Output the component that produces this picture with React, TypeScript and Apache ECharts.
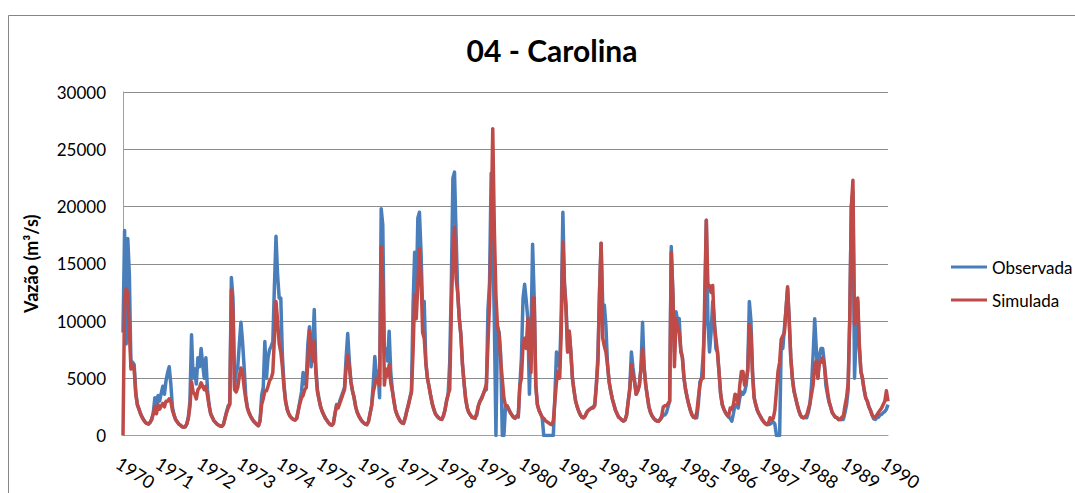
import React, { useEffect, useRef } from 'react';
import * as echarts from 'echarts';

// Year tick labels as printed on the original axis (1981 is absent there)
const tickLabels = ['1970', '1971', '1972', '1973', '1974', '1975', '1976', '1977', '1978', '1979', '1980', '1982', '1983', '1984', '1985', '1986', '1987', '1988', '1989', '1990'];

// Observed discharge (m³/s), sampled every half month; 24 samples per row
const observada = [
  9000, 17900, 8000, 17200, 14000, 6000, 6400, 6200, 3800, 2700, 2300, 1900, 1600, 1350, 1150, 1050, 1000, 1150, 1400, 2000, 3300, 2600, 3500, 3000,
  3700, 4300, 3600, 4800, 5500, 6000, 4500, 2500, 1800, 1400, 1200, 1000, 900, 780, 720, 750, 1000, 1600, 3000, 8800, 5000, 5800, 4500, 6800,
  6000, 7600, 6200, 5000, 6800, 4000, 2700, 1900, 1600, 1300, 1150, 1000, 900, 830, 800, 950, 1500, 2100, 2600, 2800, 13800, 12000, 4200, 5500,
  6000, 8000, 9900, 8200, 6000, 3500, 2500, 2000, 1700, 1450, 1250, 1100, 950, 850, 1300, 3500, 4200, 8200, 5000, 6800, 7500, 7800, 8200, 13000,
  17400, 14000, 12000, 12000, 7000, 4500, 3000, 2300, 1900, 1650, 1500, 1400, 1350, 1500, 2200, 3000, 3800, 5500, 4500, 5000, 8000, 9500, 6000, 7500,
  11000, 6000, 4000, 3200, 2500, 2100, 1800, 1500, 1300, 1100, 950, 900, 1050, 1900, 2700, 2500, 3000, 3400, 3800, 4200, 6800, 8900, 6500, 4700,
  3900, 3300, 2500, 2000, 1700, 1450, 1250, 1100, 1000, 950, 1200, 1900, 2600, 4500, 6900, 5200, 5600, 3300, 19800, 18400, 7300, 7600, 6500, 9100,
  5500, 4000, 3000, 2200, 1800, 1500, 1250, 1100, 1050, 1500, 2100, 2700, 3300, 3900, 11300, 16000, 12000, 19000, 19500, 16000, 11000, 11700, 6400, 5000,
  4300, 3500, 2800, 2300, 1900, 1700, 1550, 1450, 1400, 1700, 2200, 3000, 3600, 6400, 13200, 22500, 23000, 17500, 12500, 10200, 8800, 6200, 4600, 3200,
  2400, 2000, 1800, 1600, 1550, 1600, 1800, 2600, 3000, 3300, 3600, 3900, 4000, 11000, 13400, 22900, 17000, 10000, 0, 9500, 9000, 7000, 0, 0,
  2500, 2600, 2300, 2000, 1800, 1600, 1500, 1700, 1600, 4400, 6800, 12000, 13200, 11800, 10200, 3600, 8800, 16700, 12000, 4400, 2700, 2200, 1900, 1600,
  0, 0, 0, 0, 0, 0, 0, 3500, 7300, 6800, 5900, 10800, 19500, 13200, 11400, 7300, 9100, 7300, 5000, 3900, 3000, 2500, 2100, 1800,
  1600, 1550, 1700, 2000, 2200, 2300, 2400, 2500, 2700, 4400, 7000, 12500, 16800, 11400, 11400, 9600, 6200, 4700, 3900, 3200, 2700, 2200, 1900, 1600,
  1500, 1350, 1250, 1350, 1800, 3000, 4200, 7300, 5900, 4800, 3600, 3900, 4400, 5900, 9900, 5900, 4400, 3400, 2500, 2000, 1700, 1500, 1350, 1250,
  1250, 1400, 1550, 1800, 1800, 2000, 2500, 3000, 16500, 12500, 7300, 10800, 10000, 10200, 7300, 6800, 5000, 4000, 3300, 2700, 2200, 1800, 1600, 1550,
  1550, 2700, 4700, 5000, 7000, 10000, 18800, 10000, 7300, 9000, 11700, 10200, 7600, 7300, 5500, 3600, 2700, 2300, 2000, 1800, 1600, 1500, 1250, 1900,
  2700, 2600, 2400, 3300, 3800, 3600, 3800, 4400, 5900, 11700, 10000, 5600, 3300, 2700, 2200, 1900, 1650, 1400, 1200, 1050, 950, 950, 1000, 1100,
  1200, 1000, 0, 0, 0, 8000, 7600, 9400, 11000, 12800, 10200, 6800, 5000, 3900, 3300, 2700, 2200, 1800, 1600, 1550, 1600, 1550, 2000, 2700,
  4400, 7000, 10200, 7600, 5000, 7000, 7600, 7600, 6400, 4400, 3600, 2900, 2500, 2000, 1800, 1600, 1550, 1400, 1400, 1400, 1400, 2000, 2700, 4000,
  10200, 20000, 21300, 5000, 8800, 11700, 7600, 5600, 4900, 4000, 3300, 3000, 2500, 2200, 1800, 1450, 1400, 1550, 1600, 1800, 1850, 2000, 2100, 2300,
  2700,
];

// Simulated discharge (m³/s), same sampling
const simulada = [
  0, 12000, 12800, 12500, 9000, 5800, 6200, 5800, 3600, 2700, 2300, 1900, 1600, 1350, 1150, 1050, 1000, 1150, 1400, 1900, 2500, 1900, 2700, 2300,
  2600, 2800, 2500, 3000, 3000, 3200, 3000, 2200, 1800, 1400, 1200, 1000, 900, 780, 720, 750, 1000, 1500, 2500, 4700, 3800, 3600, 3200, 4000,
  4200, 4600, 4300, 4000, 4300, 3500, 2600, 1900, 1600, 1300, 1150, 1000, 900, 830, 800, 950, 1500, 2000, 2400, 2700, 12700, 11000, 4000, 3800,
  4200, 5200, 5900, 5500, 4200, 3200, 2400, 2000, 1700, 1450, 1250, 1100, 950, 850, 1300, 2700, 3200, 3900, 3900, 4300, 4800, 5000, 5500, 8500,
  11700, 10000, 8000, 7300, 6000, 4200, 3000, 2300, 1900, 1650, 1500, 1400, 1350, 1500, 2200, 2800, 3300, 3500, 4000, 4200, 6500, 9200, 8000, 6500,
  8200, 5500, 3800, 3100, 2500, 2100, 1800, 1500, 1300, 1100, 950, 900, 1050, 1900, 2600, 2400, 2800, 3200, 3600, 4000, 5900, 7000, 6000, 4700,
  3900, 3300, 2500, 2000, 1700, 1450, 1250, 1100, 1000, 950, 1200, 1900, 2600, 3800, 4400, 5000, 4800, 4400, 16500, 13500, 4400, 5800, 5200, 6200,
  4600, 3900, 3000, 2200, 1800, 1500, 1250, 1100, 1050, 1500, 2100, 2600, 3200, 3800, 7300, 12300, 10200, 13200, 16300, 14000, 9000, 8500, 6400, 5000,
  4300, 3500, 2800, 2300, 1900, 1700, 1550, 1450, 1400, 1700, 2200, 3000, 3600, 4000, 10800, 16000, 18200, 13700, 12500, 10200, 8800, 6200, 4600, 3200,
  2400, 2000, 1800, 1600, 1550, 1500, 2000, 2600, 3000, 3200, 3600, 4000, 4500, 8000, 11700, 18000, 26800, 18000, 12200, 9500, 8800, 6500, 4900, 3300,
  2600, 2600, 2300, 2000, 1800, 1600, 1500, 1700, 1700, 4400, 5000, 7900, 8500, 7600, 10200, 7600, 5500, 12000, 12000, 4400, 2700, 2200, 1900, 1600,
  1500, 1300, 1200, 1100, 1000, 950, 1300, 3000, 4700, 5600, 5000, 9200, 16900, 13200, 10800, 7300, 9100, 7300, 5000, 3900, 3000, 2500, 2100, 1800,
  1600, 1550, 1700, 2000, 2200, 2300, 2400, 2400, 2600, 4400, 6400, 12500, 16800, 8500, 7800, 7300, 6200, 4700, 3900, 3200, 2700, 2200, 1900, 1600,
  1500, 1350, 1250, 1350, 1800, 3000, 4000, 6200, 5300, 4600, 3600, 3900, 4400, 5900, 7600, 5900, 4400, 3400, 2500, 2000, 1700, 1500, 1350, 1250,
  1250, 1400, 1700, 2500, 2600, 2600, 2800, 3000, 16000, 12500, 6000, 10200, 9500, 9000, 7500, 6800, 5000, 4000, 3300, 2700, 2200, 1800, 1600, 1550,
  2000, 3300, 4400, 5000, 5000, 12100, 18800, 13000, 13100, 12500, 13100, 9700, 8500, 7300, 5500, 3600, 2700, 2300, 2000, 1800, 1700, 2400, 2300, 2700,
  3600, 3500, 2700, 4400, 5600, 5600, 4400, 4900, 5600, 9700, 9000, 5300, 3300, 2700, 2200, 1900, 1650, 1400, 1200, 1050, 950, 1100, 1550, 1400,
  1500, 2200, 3900, 5600, 6400, 8400, 8700, 9000, 11000, 13000, 10000, 6800, 5000, 3900, 3300, 2700, 2200, 1800, 1600, 1550, 1650, 1800, 2300, 2800,
  3600, 4400, 6200, 6500, 5000, 6400, 6400, 6800, 6200, 5000, 3900, 3000, 2500, 2000, 1800, 1600, 1550, 1400, 1400, 1600, 1700, 2600, 3300, 4600,
  10200, 20000, 22300, 9700, 10200, 12000, 8000, 5600, 5000, 4000, 3300, 3000, 2500, 2200, 1800, 1600, 1600, 1800, 2000, 2200, 2400, 2700, 3000, 3900,
  3000,
];

const FONT = 'Lato, "Open Sans", "Noto Sans", sans-serif';

export default function App() {
  const ref = useRef<HTMLDivElement>(null);

  useEffect(() => {
    if (!ref.current) return;
    const chart = echarts.init(ref.current, null, { renderer: 'svg' });
    const categories = observada.map((_, i) => String(i));
    // the tick labels are spread evenly over the whole sample range
    const lastIndex = observada.length - 1;
    const labelAt: Record<number, string> = {};
    tickLabels.forEach((lab, k) => {
      labelAt[Math.round((k * lastIndex) / (tickLabels.length - 1))] = lab;
    });

    chart.setOption({
      animation: false,
      backgroundColor: '#ffffff',
      title: {
        text: '04 - Carolina',
        left: 547,
        top: 30,
        textAlign: 'center',
        textStyle: { fontFamily: FONT, fontSize: 30, fontWeight: 'bold', color: '#000' },
      },
      graphic: [
        {
          type: 'rect',
          shape: { x: 8.5, y: 15.5, width: 1100, height: 520 },
          style: { fill: 'none', stroke: '#868686', lineWidth: 1 },
          silent: true,
          z: -1,
        },
      ],
      legend: {
        orient: 'vertical',
        left: 946,
        top: 251,
        icon: 'rect',
        itemWidth: 36,
        itemHeight: 3,
        itemGap: 11,
        data: ['Observada', 'Simulada'],
        textStyle: { fontFamily: FONT, fontSize: 17, color: '#000', lineHeight: 22 },
      },
      grid: { left: 123, right: 187, top: 92, bottom: 57.5, containLabel: false },
      xAxis: {
        type: 'category',
        data: categories,
        boundaryGap: false,
        axisLine: { show: true, lineStyle: { color: '#a0a0a0', width: 1 } },
        axisTick: { show: false },
        splitLine: { show: false },
        axisLabel: {
          interval: (idx: number) => labelAt[idx] !== undefined,
          rotate: -33,
          margin: 18,
          verticalAlign: 'top',
          fontFamily: FONT,
          fontSize: 18,
          color: '#000',
          formatter: (_v: string, idx: number) => labelAt[idx] ?? '',
        },
      },
      yAxis: {
        type: 'value',
        min: 0,
        max: 30000,
        interval: 5000,
        name: 'Vazão (m³/s)',
        nameLocation: 'middle',
        nameRotate: 90,
        nameGap: 83,
        nameTextStyle: { fontFamily: FONT, fontSize: 18, fontWeight: 'bold', color: '#000' },
        axisLine: { show: true, lineStyle: { color: '#a0a0a0', width: 1 } },
        axisTick: { show: false },
        splitLine: { show: true, lineStyle: { color: '#8c8c8c', width: 1 } },
        axisLabel: {
          margin: 17,
          fontFamily: FONT,
          fontSize: 17,
          color: '#000',
          formatter: (v: number) => String(v),
        },
      },
      series: [
        {
          name: 'Observada',
          type: 'line',
          data: observada,
          showSymbol: false,
          symbol: 'none',
          color: '#4a7ebb',
          lineStyle: { width: 3.5, color: '#4a7ebb', join: 'round' },
          z: 2,
        },
        {
          name: 'Simulada',
          type: 'line',
          data: simulada,
          showSymbol: false,
          symbol: 'none',
          color: '#be4b48',
          lineStyle: { width: 3.5, color: '#be4b48', join: 'round' },
          z: 3,
        },
      ],
    });

    return () => chart.dispose();
  }, []);

  return (
    <div
      ref={ref}
      style={{ position: 'fixed', left: 0, top: 0, width: 1075, height: 493, background: '#fff' }}
    />
  );
}
